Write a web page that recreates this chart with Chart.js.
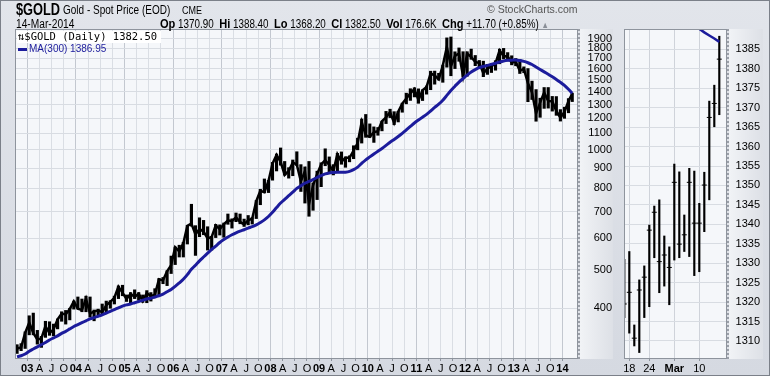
<!DOCTYPE html>
<html>
<head>
<meta charset="utf-8">
<script src="https://cdn.jsdelivr.net/npm/chart.js@4.4.1/dist/chart.umd.min.js"></script>
<style>
  body { margin: 0; width: 770px; height: 376px; overflow: hidden; font-family: "Liberation Sans", Arial, sans-serif; }
  #wrap { position: relative; width: 770px; height: 376px; background: linear-gradient(#e2e5eb, #d5d9e1); }
  .abs { position: absolute; white-space: nowrap; }
  .sq { transform-origin: 0 0; }
  .plot { background: #f5f7fa; border: 1px solid #8e949d; box-sizing: border-box; }
  .strip { background: linear-gradient(to right, #f1f3f6, #dde0e6); border-left: 2px dotted #9a9fa8; box-sizing: border-box; }
  canvas { position: absolute; top: 0; }
</style>
</head>
<body>
<div id="wrap">
  <div class="abs plot" style="left:15px;top:29px;width:563px;height:330px"></div>
  <div class="abs strip" style="left:578px;top:29px;width:35px;height:330px"></div>
  <div class="abs plot" style="left:624px;top:29px;width:103px;height:330px"></div>
  <div class="abs strip" style="left:727px;top:29px;width:36px;height:330px"></div>

  <canvas id="main" width="620" height="376" style="left:0"></canvas>
  <canvas id="zoom" width="150" height="376" style="left:620px"></canvas>

  <div class="abs sq" style="left:16px;top:1px;font-size:16px;font-weight:bold;transform:scaleX(0.8)">$GOLD</div>
  <div class="abs sq" style="left:63px;top:3px;font-size:12.5px;transform:scaleX(0.8)">Gold - Spot Price (EOD)</div>
  <div class="abs sq" style="left:182px;top:5px;font-size:10px;transform:scaleX(0.9)">CME</div>
  <div class="abs" style="left:487px;top:3px;font-size:10.5px;color:#555">&copy; StockCharts.com</div>
  <div class="abs sq" style="left:16px;top:17px;font-size:12px;transform:scaleX(0.85)">14-Mar-2014</div>
  <div class="abs sq" style="left:160px;top:16px;font-size:12px;transform:scaleX(0.82)">
    <b style="font-size:13.5px">Op</b> 1370.90 &nbsp;<b style="font-size:13.5px">Hi</b> 1388.40 &nbsp;<b style="font-size:13.5px">Lo</b> 1368.20 &nbsp;<b style="font-size:13.5px">Cl</b> 1382.50 &nbsp;<b style="font-size:13.5px">Vol</b> 176.6K &nbsp;<b style="font-size:13.5px">Chg</b> +11.70 (+0.85%) <span style="color:#8a8f98;font-size:9px">&#9650;</span>
  </div>

  <div class="abs" style="left:17px;top:31px;width:144px;height:12px;background:#fff"></div>
  <div class="abs" style="left:18px;top:30px;font-family:'DejaVu Sans Mono',monospace;font-size:10.5px">&#8645;$GOLD (Daily) 1382.50</div>
  <div class="abs" style="left:18px;top:48px;width:9px;height:3px;background:#1c1c9c"></div>
  <div class="abs" style="left:29px;top:43px;font-size:10px;color:#1c1c9c">MA(300) 1386.95</div>

  <div class="abs" style="left:0;top:0;width:768px;height:374px;border:1px solid #7b8089"></div>
</div>

<script>
// monthly bars, Oct 2002 .. Mar 2014 (last month runs to 14 Mar)
const firstYear = 2002;
const firstMonth = 10;

const priceHigh = [
  324, 326, 349,
  383, 389, 352, 340, 371, 370, 365, 376, 392, 395, 400, 417,
  427, 422, 429, 427, 396, 398, 410, 417, 418, 429, 455, 457,
  432, 438, 445, 438, 432, 443, 438, 448, 475, 478, 497, 541,
  570, 576, 586, 646, 730, 645, 675, 665, 641, 605, 650, 648,
  655, 690, 671, 694, 690, 670, 684, 676, 746, 796, 845, 838,
  930, 976, 1011, 935, 902, 943, 989, 918, 906, 935, 826, 884,
  928, 1006, 960, 918, 980, 988, 960, 966, 1024, 1070, 1195, 1227,
  1162, 1142, 1138, 1180, 1249, 1265, 1247, 1250, 1310, 1388, 1424, 1432,
  1423, 1415, 1447, 1576, 1577, 1557, 1632, 1911, 1921, 1763, 1803, 1764,
  1764, 1791, 1726, 1677, 1670, 1640, 1627, 1675, 1790, 1798, 1755, 1723,
  1696, 1685, 1616, 1600, 1488, 1417, 1348, 1434, 1434, 1362, 1361, 1262,
  1280, 1345, 1388
];
const priceLow = [
  308, 313, 317,
  343, 343, 325, 319, 338, 342, 341, 355, 371, 365, 374, 398,
  398, 392, 392, 380, 372, 385, 387, 388, 400, 410, 423, 430,
  416, 411, 423, 419, 414, 413, 417, 425, 431, 461, 456, 489,
  515, 538, 538, 580, 643, 543, 605, 612, 560, 560, 602, 611,
  603, 650, 636, 660, 652, 642, 648, 651, 672, 728, 780, 781,
  839, 885, 915, 864, 849, 861, 913, 786, 735, 681, 705, 750,
  808, 912, 880, 865, 883, 920, 904, 933, 950, 1000, 1040, 1075,
  1075, 1044, 1088, 1116, 1164, 1205, 1157, 1175, 1243, 1305, 1331, 1358,
  1309, 1330, 1380, 1416, 1462, 1497, 1478, 1613, 1535, 1600, 1669, 1522,
  1531, 1688, 1627, 1613, 1527, 1547, 1564, 1585, 1645, 1692, 1672, 1635,
  1626, 1555, 1562, 1321, 1338, 1180, 1207, 1271, 1273, 1251, 1221, 1181,
  1200, 1239, 1322
];
const priceClose = [
  317, 319, 347,
  368, 347, 334, 336, 361, 346, 354, 375, 388, 386, 398, 416,
  399, 396, 423, 388, 393, 395, 391, 407, 415, 425, 453, 438,
  422, 435, 427, 435, 417, 437, 429, 433, 473, 470, 495, 513,
  569, 556, 582, 644, 653, 613, 633, 623, 599, 604, 646, 632,
  650, 665, 662, 677, 659, 650, 665, 672, 743, 789, 783, 834,
  923, 971, 933, 865, 885, 930, 918, 833, 884, 730, 814, 869,
  919, 942, 916, 883, 975, 934, 955, 955, 996, 1040, 1175, 1087,
  1078, 1108, 1113, 1180, 1207, 1245, 1169, 1246, 1307, 1346, 1386, 1421,
  1333, 1411, 1439, 1556, 1536, 1505, 1628, 1813, 1620, 1722, 1746, 1531,
  1744, 1711, 1662, 1651, 1558, 1598, 1622, 1648, 1776, 1720, 1714, 1657,
  1664, 1579, 1598, 1469, 1394, 1234, 1314, 1394, 1326, 1324, 1253, 1204,
  1244, 1326, 1382.5
];
const ma300 = [
  302, 304, 307,
  312, 316, 320, 324, 328, 333, 337, 341, 346, 350, 355, 360,
  364, 368, 372, 376, 379, 382, 385, 389, 393, 397, 401, 405,
  408, 410, 413, 416, 419, 422, 424, 427, 430, 434, 440, 446,
  454, 463, 473, 486, 501, 513, 526, 538, 550, 562, 573, 585,
  595, 604, 612, 619, 625, 630, 636, 641, 648, 657, 667, 680,
  697, 716, 735, 751, 767, 783, 800, 812, 825, 833, 842, 852,
  862, 870, 875, 877, 878, 878, 879, 883, 892, 905, 925, 944,
  960, 976, 992, 1008, 1026, 1045, 1062, 1080, 1100, 1122, 1145, 1168,
  1188, 1208, 1228, 1252, 1278, 1302, 1332, 1370, 1410, 1445, 1480, 1510,
  1540, 1568, 1590, 1608, 1620, 1630, 1640, 1650, 1662, 1672, 1678, 1680,
  1682, 1676, 1668, 1655, 1638, 1615, 1592, 1570, 1548, 1526, 1502, 1478,
  1452, 1420, 1386.95
];

const yearLabels = ['03', '04', '05', '06', '07', '08', '09', '10', '11', '12', '13', '14'];
const quarterLetters = ['A', 'J', 'O'];
const priceTicks = [400, 500, 600, 700, 800, 900, 1000, 1100, 1200, 1300, 1400, 1500, 1600, 1700, 1800, 1900];

// last 20 sessions, 17 Feb .. 14 Mar 2014
const dayNames = ['17', '18', '19', '20', '21', '24', '25', '26', '27', '28', '3', '4', '5', '6', '7', '10', '11', '12', '13', '14'];
const dayHigh = [1331, 1333.0, 1314.1, 1325.7, 1329.3, 1339.8, 1344.7, 1346.3, 1337.0, 1334.2, 1355.5, 1353.5, 1342.4, 1354.4, 1353.7, 1345.4, 1353.4, 1371.7, 1375.8, 1388.4];
const dayLow = [1316, 1312.0, 1308.7, 1307.0, 1316.0, 1318.8, 1331.4, 1322.4, 1324.1, 1319.3, 1330.8, 1331.4, 1333.0, 1331.7, 1326.8, 1327.8, 1338.1, 1346.3, 1365.1, 1368.2];
const dayClose = [1319.5, 1322.5, 1310.7, 1323.1, 1326.4, 1338.5, 1343.1, 1330.4, 1332.1, 1328.9, 1350.8, 1334.9, 1337.3, 1350.8, 1340.3, 1340.3, 1350.1, 1367.5, 1371.1, 1382.5];
const dayMA = [1403.5, 1402.6, 1401.7, 1400.8, 1399.9, 1399.1, 1398.2, 1397.3, 1396.4, 1395.6, 1394.7, 1393.8, 1392.9, 1392.1, 1391.2, 1390.3, 1389.4, 1388.6, 1387.8, 1386.95];
const dayTickIdx = [1, 5, 10, 15];
const dayTickLabels = ['18', '24', 'Mar', '10'];
const zoomTicks = [1310, 1315, 1320, 1325, 1330, 1335, 1340, 1345, 1350, 1355, 1360, 1365, 1370, 1375, 1380, 1385];

Chart.defaults.font.family = "'Liberation Sans', Arial, sans-serif";
Chart.defaults.font.size = 11;
Chart.defaults.color = '#000';
Chart.defaults.animation = false;

// month -> fractional year (mid month, last month ends on the 14th)
const monthX = priceClose.map((v, i) => {
  const m = firstMonth - 1 + i;
  const yr = firstYear + Math.floor(m / 12);
  const mo = m % 12;
  if (i === priceClose.length - 1) return yr + (mo + 13 / 31) / 12;
  return yr + (mo + 0.5) / 12;
});

const xTicks = [];
const xLabels = [];
yearLabels.forEach((y, k) => {
  const yr = 2003 + k;
  xTicks.push(yr); xLabels.push(y);
  if (yr < 2014) quarterLetters.forEach((q, j) => { xTicks.push(yr + (j + 1) / 4); xLabels.push(q); });
});

new Chart(document.getElementById('main'), {
  type: 'bar',
  data: {
    datasets: [
      {
        type: 'line',
        data: monthX.map((x, i) => ({ x: x, y: ma300[i] })),
        borderColor: '#1c1c9c',
        borderWidth: 3,
        pointRadius: 0,
        tension: 0.3,
        order: 0
      },
      {
        type: 'line',
        data: monthX.map((x, i) => ({ x: x, y: priceClose[i] })),
        borderColor: '#000',
        borderWidth: 2.5,
        pointRadius: 0,
        order: 1
      },
      {
        data: monthX.map((x, i) => ({ x: x, y: [priceLow[i], priceHigh[i]] })),
        backgroundColor: '#000',
        barThickness: 2.5,
        order: 2
      }
    ]
  },
  options: {
    responsive: false,
    layout: { padding: { left: 16, top: 30, right: 8, bottom: 0 } },
    plugins: { legend: { display: false }, tooltip: { enabled: false } },
    scales: {
      x: {
        type: 'linear',
        min: 2002.77,
        max: 2014.3,
        offset: false,
        afterBuildTicks: (s) => { s.ticks = xTicks.map(v => ({ value: v })); },
        afterFit: (s) => { s.height = 18; },
        grid: {
          offset: false,
          color: (c) => (c.tick && Number.isInteger(c.tick.value)) ? '#c3c8d0' : '#dadee4',
          tickLength: 3,
          tickColor: '#8e949d'
        },
        border: { display: false },
        ticks: {
          autoSkip: false,
          maxRotation: 0,
          padding: 1,
          callback: (v, i) => xLabels[i],
          font: (c) => ({ size: 11, weight: (c.tick && Number.isInteger(c.tick.value)) ? 'bold' : 'normal' })
        }
      },
      y: {
        type: 'logarithmic',
        position: 'right',
        min: 300,
        max: 2000,
        afterBuildTicks: (s) => { s.ticks = priceTicks.map(v => ({ value: v })); },
        afterFit: (s) => { s.width = 35; },
        grid: { color: '#d8dce2', drawTicks: false },
        border: { display: false },
        ticks: { padding: 6, crossAlign: 'far', callback: (v) => String(v) }
      }
    }
  }
});

new Chart(document.getElementById('zoom'), {
  type: 'bar',
  data: {
    datasets: [
      {
        type: 'line',
        data: dayMA.map((v, i) => ({ x: i, y: v })),
        borderColor: '#1c1c9c',
        borderWidth: 2.5,
        pointRadius: 0,
        order: 0
      },
      {
        type: 'scatter',
        data: dayClose.map((v, i) => ({ x: i, y: v })),
        pointStyle: 'line',
        radius: 2.5,
        borderColor: '#000',
        borderWidth: 1,
        order: 1
      },
      {
        data: dayHigh.map((v, i) => ({ x: i, y: [dayLow[i], v] })),
        backgroundColor: '#000',
        barThickness: 1.5,
        order: 2
      }
    ]
  },
  options: {
    responsive: false,
    layout: { padding: { left: 5, top: 30, right: 10, bottom: 0 } },
    plugins: { legend: { display: false }, tooltip: { enabled: false } },
    scales: {
      x: {
        type: 'linear',
        min: 0.14,
        max: 20.34,
        offset: false,
        afterBuildTicks: (s) => { s.ticks = dayTickIdx.map(v => ({ value: v })); },
        afterFit: (s) => { s.height = 18; },
        grid: { offset: false, color: '#cfd3da', tickLength: 3, tickColor: '#8e949d' },
        border: { display: false },
        ticks: {
          autoSkip: false,
          maxRotation: 0,
          padding: 1,
          callback: (v, i) => dayTickLabels[i],
          font: (c) => ({ size: 11, weight: (c.index === 2) ? 'bold' : 'normal' })
        }
      },
      y: {
        type: 'linear',
        position: 'right',
        min: 1305.6,
        max: 1390,
        afterBuildTicks: (s) => { s.ticks = zoomTicks.map(v => ({ value: v })); },
        afterFit: (s) => { s.width = 34; },
        grid: { color: '#d8dce2', drawTicks: false },
        border: { display: false },
        ticks: { padding: 4, crossAlign: 'far', callback: (v) => String(v) }
      }
    }
  }
});
</script>
</body>
</html>
